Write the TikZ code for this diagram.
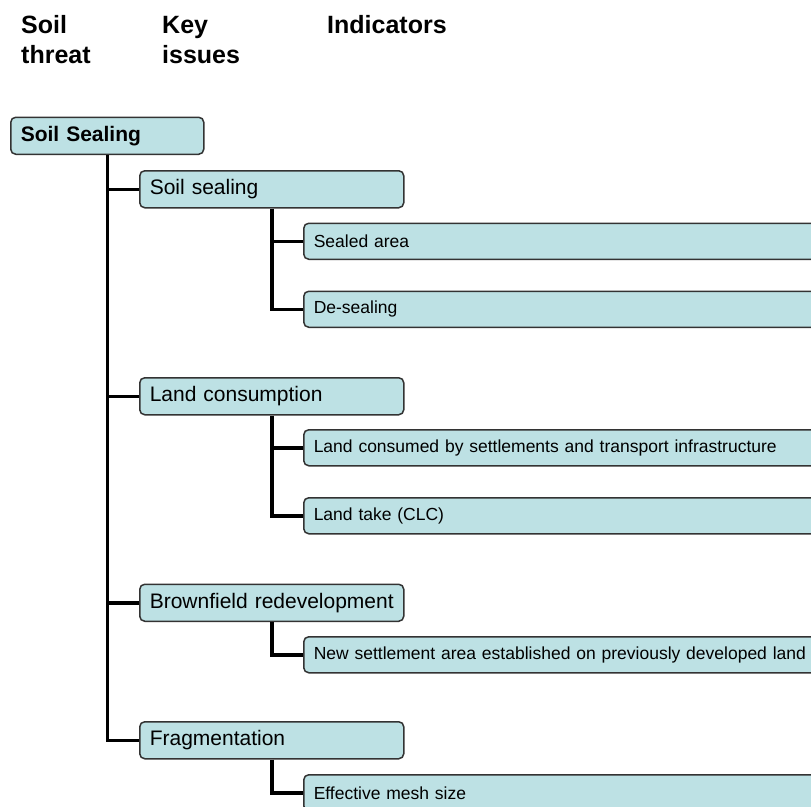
\documentclass[tikz,border=0pt]{standalone}
\usepackage{fontspec}
\setmainfont{Liberation Sans}
\definecolor{boxfill}{HTML}{BDE1E4}
\definecolor{boxline}{HTML}{333333}
\begin{document}
\begin{tikzpicture}[x=1pt,y=-1pt,
  box/.style={draw=boxline, fill=boxfill, line width=1.5pt, rounded corners=5pt,
    anchor=north west, inner xsep=10pt, inner ysep=0pt, align=left},
  rootbox/.style={box, minimum width=193pt, text width=173pt, minimum height=37pt,
    font=\fontsize{21}{24}\selectfont\bfseries},
  keybox/.style={box, minimum width=264pt, text width=244pt, minimum height=37pt,
    font=\fontsize{21}{24}\selectfont},
  indbox/.style={box, minimum width=560pt, text width=540pt, minimum height=36pt,
    font=\fontsize{17.5}{20}\selectfont},
  head/.style={anchor=base west, inner sep=0pt, font=\fontsize{25}{30}\selectfont\bfseries},
  conn/.style={line width=3.5pt, black}]
\useasboundingbox (0,0) rectangle (811,806);
\fill[white] (0,0) rectangle (811,806);
\clip (0,0) rectangle (811,806);

% headers
\node[head] (h1a) at (21,33) {Soil};
\node[head] (h1b) at (21,63) {threat};
\node[head] (h2a) at (162,33) {Key};
\node[head] (h2b) at (162,63) {issues};
\node[head] (h3a) at (327,33) {Indicators};

% root
\node[rootbox] (root) at (10,116.5) {Soil Sealing};

% key issues
\node[keybox] (k1) at (139,170) {Soil sealing};
\node[keybox] (k2) at (139,377) {Land consumption};
\node[keybox] (k3) at (139,583.5) {Brownfield redevelopment};
\node[keybox] (k4) at (139,721) {Fragmentation};

% indicators
\node[indbox] (i1) at (303,222.5) {Sealed area};
\node[indbox] (i2) at (303,290.5) {De-sealing};
\node[indbox] (i3) at (303,429) {Land consumed by settlements and transport infrastructure};
\node[indbox] (i4) at (303,497) {Land take (CLC)};
\node[indbox] (i5) at (303,636) {New settlement area established on previously developed land};
\node[indbox] (i6) at (303,774) {Effective mesh size};

% connectors
\draw[conn] (root.south) |- (k4.west);
\draw[conn] (root.south |- k1.west) -- (k1.west);
\draw[conn] (root.south |- k2.west) -- (k2.west);
\draw[conn] (root.south |- k3.west) -- (k3.west);

\draw[conn] (k1.south) |- (i2.west);
\draw[conn] (k1.south |- i1.west) -- (i1.west);
\draw[conn] (k2.south) |- (i4.west);
\draw[conn] (k2.south |- i3.west) -- (i3.west);
\draw[conn] (k3.south) |- (i5.west);
\draw[conn] (k4.south) |- (i6.west);
\end{tikzpicture}
\end{document}
